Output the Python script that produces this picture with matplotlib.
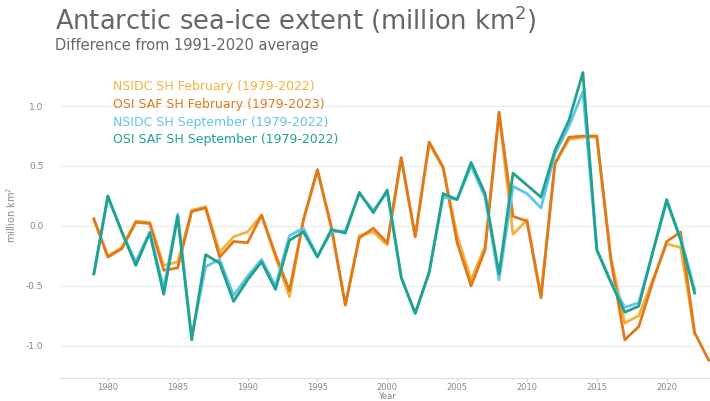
import matplotlib.pyplot as plt

years_feb_nsidc = list(range(1979, 2023))
years_feb_osi = list(range(1979, 2024))
years_sep = list(range(1979, 2023))

nsidc_feb = [0.05, -0.25, -0.18, 0.04, 0.03, -0.33, -0.30, 0.13, 0.16, -0.22,
             -0.09, -0.05, 0.09, -0.26, -0.59, 0.05, 0.46, -0.02, -0.66, -0.08,
             -0.05, -0.16, 0.56, -0.09, 0.69, 0.48, -0.08, -0.45, -0.17, 0.93,
             -0.07, 0.05, -0.58, 0.52, 0.72, 0.74, 0.74, -0.26, -0.81, -0.75,
             -0.45, -0.15, -0.18, -0.90]
osi_feb = [0.06, -0.26, -0.19, 0.03, 0.02, -0.37, -0.35, 0.12, 0.15, -0.26,
           -0.13, -0.14, 0.09, -0.24, -0.54, 0.05, 0.47, -0.01, -0.66, -0.10,
           -0.02, -0.14, 0.57, -0.09, 0.70, 0.49, -0.14, -0.50, -0.20, 0.95,
           0.08, 0.04, -0.60, 0.52, 0.74, 0.75, 0.75, -0.28, -0.95, -0.84,
           -0.47, -0.13, -0.05, -0.89, -1.12]
nsidc_sep = [-0.40, 0.24, -0.05, -0.30, -0.05, -0.52, 0.10, -0.92, -0.34, -0.28,
             -0.58, -0.42, -0.28, -0.50, -0.08, -0.02, -0.25, -0.05, -0.04, 0.27,
             0.13, 0.28, -0.43, -0.73, -0.38, 0.24, 0.22, 0.50, 0.24, -0.45,
             0.33, 0.27, 0.15, 0.60, 0.83, 1.12, -0.20, -0.46, -0.68, -0.64,
             -0.22, 0.20, -0.10, -0.53]
osi_sep = [-0.40, 0.25, -0.05, -0.33, -0.06, -0.57, 0.08, -0.95, -0.24, -0.31,
           -0.63, -0.45, -0.30, -0.53, -0.12, -0.05, -0.26, -0.03, -0.06, 0.28,
           0.11, 0.30, -0.43, -0.73, -0.39, 0.27, 0.22, 0.53, 0.27, -0.40,
           0.44, 0.34, 0.24, 0.63, 0.88, 1.28, -0.20, -0.47, -0.72, -0.67,
           -0.22, 0.22, -0.12, -0.56]

labels = ["NSIDC SH February (1979-2022)", "OSI SAF SH February (1979-2023)",
          "NSIDC SH September (1979-2022)", "OSI SAF SH September (1979-2022)"]
colors = ["#F2B33A", "#E0791C", "#62C3EC", "#1FA38F"]

fig = plt.figure(figsize=(7.1, 4.01), dpi=100)
ax = fig.add_axes([0.085, 0.057, 0.915, 0.813])

ax.plot(years_feb_nsidc, nsidc_feb, color=colors[0], lw=2.0)
ax.plot(years_feb_osi, osi_feb, color=colors[1], lw=2.0)
ax.plot(years_sep, nsidc_sep, color=colors[2], lw=2.0)
ax.plot(years_sep, osi_sep, color=colors[3], lw=2.0)

ax.set_xlim(1976.6, 2023.1)
ax.set_ylim(-1.27, 1.45)
ax.set_yticks([-1.0, -0.5, 0.0, 0.5, 1.0])
ax.set_yticklabels(["-1.0", "-0.5", "0.0", "0.5", "1.0"])
ax.set_xticks([1980, 1985, 1990, 1995, 2000, 2005, 2010, 2015, 2020])
ax.grid(axis="y", color="#ececec", lw=0.8)
ax.set_axisbelow(True)
for s in ["top", "right", "left"]:
    ax.spines[s].set_visible(False)
ax.spines["bottom"].set_color("#dddddd")
ax.tick_params(axis="y", length=0, labelsize=6.5, labelcolor="#888888", pad=12)
ax.tick_params(axis="x", length=2, color="#cccccc", labelsize=6,
               labelcolor="#888888", pad=1.5)
ax.set_ylabel("million km$^2$", fontsize=7, color="#888888", labelpad=6)
fig.text(ax.get_position().x0 + ax.get_position().width * (2000 - 1976.6) / 46.5,
         0.0, "Year", fontsize=6, color="#888888", ha="center", va="bottom")

# coloured legend text, no handles
for i, (lab, c) in enumerate(zip(labels, colors)):
    ax.text(1980.4, 1.16 - i * 0.147, lab, color=c, fontsize=9, va="center")

fig.text(0.077, 0.925, "Antarctic sea-ice extent (million km$^2$)",
         fontsize=18.5, color="#666666")
fig.text(0.077, 0.875, "Difference from 1991-2020 average",
         fontsize=10.5, color="#666666")

fig.savefig("out.png", dpi=100)
